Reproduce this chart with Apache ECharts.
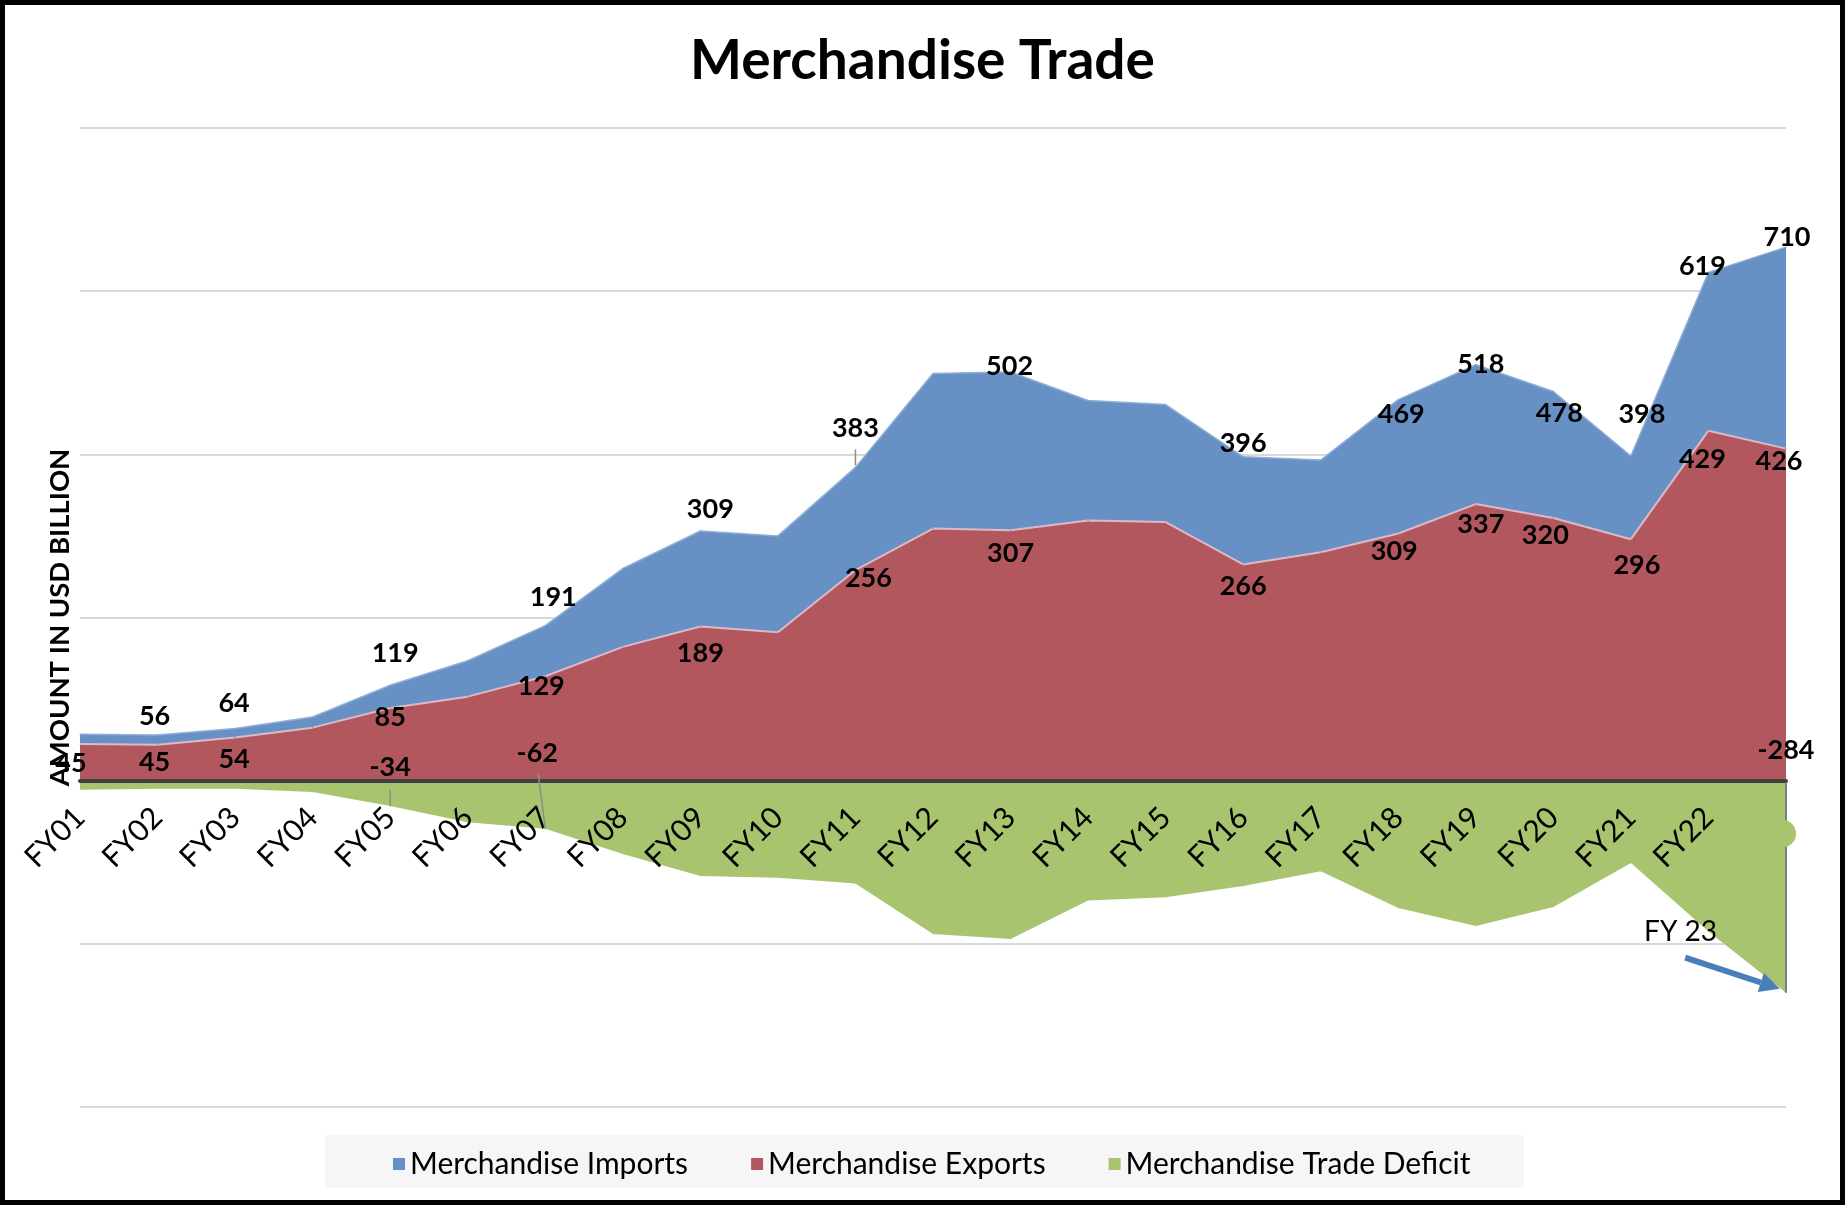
<!DOCTYPE html>
<html><head><meta charset="utf-8">
<script src="https://cdn.jsdelivr.net/npm/echarts@6/dist/echarts.min.js"></script>
<style>
html,body{margin:0;padding:0;background:#fff;}
#wrap{position:relative;width:1845px;height:1205px;}
#chart{position:absolute;left:0;top:0;width:1845px;height:1205px;}
#frame{position:absolute;left:0;top:0;width:1845px;height:1205px;box-sizing:border-box;border:5px solid #000;pointer-events:none;}
</style></head><body>
<div id="wrap"><div id="chart"></div><div id="frame"></div></div>
<script>
// ---- data ----
const categories = ['FY01','FY02','FY03','FY04','FY05','FY06','FY07','FY08','FY09','FY10','FY11','FY12','FY13','FY14','FY15','FY16','FY17','FY18','FY19','FY20','FY21','FY22','FY23'];
const importsValues = [57,56,64,78,117,147,190,260,306,300,384,499,501,466,461,397,393,467,510,477,398,623,654];
const exportsValues = [45,44,53,65,89,103,128,164,189,182,258,309,307,319,317,265,280,303,339,322,296,429,407];
const deficitValues = [-11,-10,-10,-14,-31,-51,-59,-90,-117,-119,-126,-188,-194,-147,-143,-129,-111,-156,-178,-155,-101,-185,-260];
const importsLabels = ['','56','64','','119','','191','','309','','383','','502','','','396','','469','518','478','398','619','710'];
const exportsLabels = ['45','45','54','','85','','129','','189','','256','','307','','','266','','309','337','320','296','429','426'];
const deficitLabels = ['','','','','-34','','-62','','','','','','','','','','','','','','','','-284'];
const seriesNames = ['Merchandise Imports','Merchandise Exports','Merchandise Trade Deficit'];
const titleText = 'Merchandise Trade';
const yAxisName = 'AMOUNT IN USD BILLION';
const annotationText = 'FY 23';

// ---- label placement (pixel shifts of each label from its point) ----
const importsShift = {1:[-3,-19],2:[-1,-25],4:[5,-32],6:[8,-28],8:[10,-22],10:[0,-39],12:[-1,-6],15:[0,-13],17:[3,15],18:[5,0],19:[6,22],20:[11,-42],21:[-6,-6],22:[1,-10]};
const exportsShift = {0:[-9,19],1:[-3,18],2:[-1,22],4:[0,9],6:[-4,10],8:[0,27],10:[13,8],12:[0,23],15:[0,22],17:[-4,18],18:[5,20],19:[-8,17],20:[6,26],21:[-6,29],22:[-7,13]};
const deficitShift = {4:[0,-39],6:[-8,-76],22:[0,-242]};

const FONT = 'Lato';
const colors = ['#6791C5','#B3575F','#A9C46F'];
const last = categories.length - 1;

function buildData(values, labels, shift){
  return values.map((v,i)=>({
    value: v,
    label: labels[i] ? {show:true, formatter: labels[i], offset: shift[i] || [0,0]} : {show:false}
  }));
}

function areaSeries(name, values, labels, shift, color, line){
  return {
    name, type:'line', data: buildData(values, labels, shift),
    symbol:'circle', symbolSize:1, showSymbol:true,
    itemStyle:{color},
    lineStyle: line,
    areaStyle:{color, opacity:1},
    label:{position:'inside', color:'#000', fontFamily:FONT, fontWeight:'bold', fontSize:27},
    emphasis:{disabled:true}, silent:true, animation:false
  };
}

const chart = echarts.init(document.getElementById('chart'), null, {renderer:'canvas'});
chart.setOption({
  animation:false,
  backgroundColor:'#fff',
  title:{text:titleText, left:'center', top:29, textStyle:{fontFamily:FONT, fontWeight:'bold', fontSize:55, color:'#000'}},
  legend:{
    data: seriesNames, left:388, top:1144, icon:'rect', itemWidth:12, itemHeight:12, itemGap:63,
    itemStyle:{borderWidth:0},
    textStyle:{fontFamily:FONT, fontSize:30, color:'#000'}
  },
  grid:{left:80, right:59, top:128, bottom:98},
  xAxis:{
    type:'category', data:categories, boundaryGap:false, z:10,
    axisLine:{onZero:false, lineStyle:{color:'#404040', width:4}},
    axisTick:{show:false},
    axisLabel:{rotate:45, interval:0, margin:32, fontFamily:FONT, fontSize:30, color:'#000',
      formatter:(v, i) => i === last ? '' : v},
    splitLine:{show:false}
  },
  yAxis:{
    type:'value', min:-400, max:800, interval:200,
    axisLabel:{show:false}, axisLine:{show:false}, axisTick:{show:false},
    splitLine:{lineStyle:{color:'#d9d9d9', width:2}},
    name:yAxisName, nameLocation:'middle', nameRotate:90, nameGap:6,
    nameTextStyle:{fontFamily:FONT, fontWeight:'bold', fontSize:27.5, color:'#000'}
  },
  graphic:[{type:'rect', z:0, shape:{x:325, y:1135, width:1199, height:53}, style:{fill:'#f6f6f6'}}],
  series:[
    areaSeries(seriesNames[0], importsValues, importsLabels, importsShift, colors[0], {color:'#8eaed6', width:1.5}),
    areaSeries(seriesNames[1], exportsValues, exportsLabels, exportsShift, colors[1], {color:'#dcb9c8', width:2}),
    areaSeries(seriesNames[2], deficitValues, deficitLabels, deficitShift, colors[2], {width:0})
  ]
});

// ---- move the category axis onto the zero line, using the chart's own scale ----
const px = (i, v) => chart.convertToPixel({gridIndex:0}, [i, v]);
const zeroY = px(0, 0)[1];
const bottomY = px(0, -400)[1];
chart.setOption({xAxis:{offset: -(bottomY - zeroY)}});

// ---- annotation for the last period and label leader lines ----
const lerp = (a, b, t) => [a[0] + (b[0]-a[0])*t, a[1] + (b[1]-a[1])*t];
const textPos = lerp(px(last-2, -186), px(last-1, -186), 0.64);
const s0 = lerp(px(last-2, -217), px(last-1, -217), 0.7);
const e0 = lerp(px(last-1, -255), px(last, -255), 0.92);
const ang = Math.atan2(e0[1]-s0[1], e0[0]-s0[0]);
const hl = 20, hw = 10;
const base = [e0[0]-hl*Math.cos(ang), e0[1]-hl*Math.sin(ang)];
const n = [-Math.sin(ang), Math.cos(ang)];
const dropTop = px(last, 0), dropBot = px(last, deficitValues[last]);

function leader(a, b){
  return {type:'line', z:20, shape:{x1:a[0], y1:a[1], x2:b[0], y2:b[1]}, style:{stroke:'#8c8c8c', lineWidth:1.5}};
}
const p5 = px(4, deficitValues[4]);
const p7 = px(6, deficitValues[6]);
const p11 = px(10, importsValues[10]);

chart.setOption({
  graphic:[
    {type:'rect', z:0, shape:{x:325, y:1135, width:1199, height:53}, style:{fill:'#f6f6f6'}},
    {type:'line', z:20, shape:{x1:dropTop[0], y1:dropTop[1]+2, x2:dropBot[0], y2:dropBot[1]}, style:{stroke:'#7f7f7f', lineWidth:2}},
    {type:'circle', z:21, shape:{cx:dropTop[0]-4, cy:dropTop[1]+53, r:14}, style:{fill:colors[2]}},
    leader([p5[0], p5[1]], [p5[0], p5[1]-16]),
    leader([p7[0], p7[1]], [p7[0]-7, p7[1]-55]),
    leader([p11[0], p11[1]-2], [p11[0], p11[1]-18]),
    {type:'text', z:20, x:textPos[0], y:textPos[1], style:{text:annotationText, fontFamily:FONT, fontSize:28, fill:'#000', align:'center', verticalAlign:'middle'}},
    {type:'line', z:20, shape:{x1:s0[0], y1:s0[1], x2:base[0], y2:base[1]}, style:{stroke:'#4A7EBB', lineWidth:6}},
    {type:'polygon', z:20, shape:{points:[e0, [base[0]+n[0]*hw, base[1]+n[1]*hw], [base[0]-n[0]*hw, base[1]-n[1]*hw]]}, style:{fill:'#4A7EBB'}}
  ]
});
</script></body></html>
